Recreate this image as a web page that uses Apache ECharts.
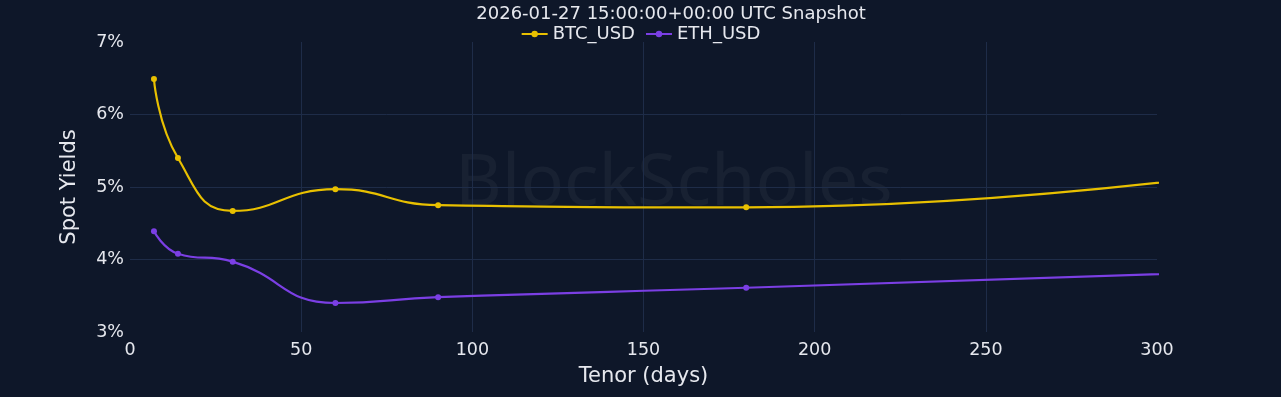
<!DOCTYPE html>
<html><head><meta charset="utf-8">
<script src="https://cdn.jsdelivr.net/npm/echarts@6/dist/echarts.min.js"></script>
<style>html,body{margin:0;padding:0;background:#0e1729;}#c{width:1281px;height:397px;}</style>
</head><body><div id="c"></div>
<script>
const tenors = [7, 14, 30, 60, 90, 180, 365];
const btcUsd = [6.49, 5.40, 4.67, 4.97, 4.75, 4.72, 5.47];
const ethUsd = [4.39, 4.08, 3.97, 3.40, 3.48, 3.61, 3.90];
const yTicks = [3, 4, 5, 6, 7];
const xTicks = [0, 50, 100, 150, 200, 250, 300];
const titleText = '2026-01-27 15:00:00+00:00 UTC Snapshot';

const font = 'DejaVu Sans, Verdana, sans-serif';
const txt = '#e6e8ee';
const gridCol = '#1e2c48';
const chart = echarts.init(document.getElementById('c'));
const pairs = v => tenors.map((t, i) => [t, v[i]]);
chart.setOption({
  backgroundColor: '#0e1729',
  animation: false,
  title: { text: titleText, left: 666, top: 0, textAlign: 'center',
    textStyle: { color: txt, fontFamily: font, fontSize: 18, fontWeight: 'normal' } },
  legend: { top: 20, left: 'center', itemWidth: 26, itemHeight: 8, itemGap: 10,
    textStyle: { color: txt, fontFamily: font, fontSize: 18, padding: [0,0,0,0] },
    data: ['BTC_USD', 'ETH_USD'] },
  graphic: [{ type: 'text', left: 455, top: 148, z: 0, silent: true,
    style: { text: 'BlockScholes', fontSize: 72, fontFamily: 'Noto Sans, sans-serif', fill: 'rgba(255,255,255,0.045)' } }],
  grid: { left: 130, right: 124, top: 42, bottom: 65 },
  xAxis: { type: 'value', min: xTicks[0], max: xTicks[xTicks.length-1], interval: 50,
    name: 'Tenor (days)', nameLocation: 'middle', nameGap: 34,
    nameTextStyle: { color: txt, fontFamily: font, fontSize: 21 },
    axisLine: { show: false }, axisTick: { show: false },
    axisLabel: { color: txt, fontFamily: font, fontSize: 17.5, margin: 9 },
    splitLine: { show: true, showMinLine: false, showMaxLine: false, lineStyle: { color: gridCol, width: 1 } } },
  yAxis: { type: 'value', min: yTicks[0], max: yTicks[yTicks.length-1], interval: 1,
    name: 'Spot Yields', nameLocation: 'middle', nameGap: 50,
    nameTextStyle: { color: txt, fontFamily: font, fontSize: 21 },
    axisLine: { show: false }, axisTick: { show: false },
    axisLabel: { color: txt, fontFamily: font, fontSize: 17.5, formatter: '{value}%', margin: 6 },
    splitLine: { show: true, showMinLine: false, showMaxLine: false, lineStyle: { color: gridCol, width: 1 } } },
  series: [
    { name: 'BTC_USD', type: 'line', data: pairs(btcUsd), smooth: 0.5, clip: true,
      symbol: 'circle', symbolSize: 6, color: '#e8c000',
      lineStyle: { width: 2.2, color: '#e8c000' }, itemStyle: { color: '#e8c000' } },
    { name: 'ETH_USD', type: 'line', data: pairs(ethUsd), smooth: 0.5, clip: true,
      symbol: 'circle', symbolSize: 6, color: '#7b3fe4',
      lineStyle: { width: 2.2, color: '#7b3fe4' }, itemStyle: { color: '#7b3fe4' } }
  ]
});
</script></body></html>
